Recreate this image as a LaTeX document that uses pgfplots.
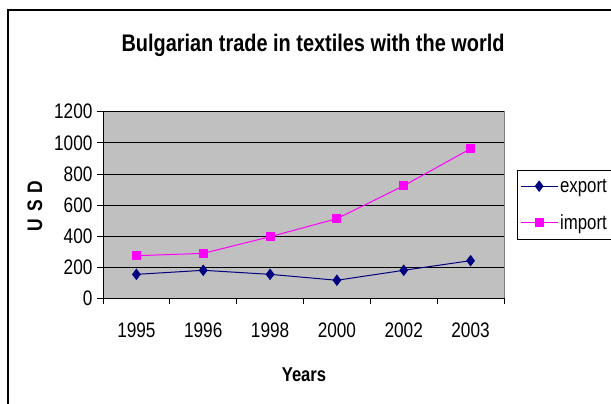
\documentclass[border=0pt]{standalone}
\usepackage{fontspec}
\setmainfont{Liberation Sans}[FakeStretch=0.83]
\newfontfamily\tickfont{Liberation Sans}[FakeStretch=0.82]
\usepackage{pgfplots}
\pgfplotsset{compat=1.18}
\definecolor{plotgray}{HTML}{C0C0C0}
\definecolor{bordergray}{HTML}{808080}
\definecolor{navyc}{HTML}{000080}
\definecolor{magc}{HTML}{FF00FF}
\begin{document}
\begin{tikzpicture}[x=1pt,y=1pt]
\useasboundingbox (0,0) rectangle (611,404);
\clip (0,0) rectangle (611,404);
\fill[white] (0,0) rectangle (611,404);
\draw[line width=1.2pt] (8,-20) -- (8,394) -- (640,394);
\node[font=\bfseries\fontsize{24}{26}\selectfont] at (313,359) {Bulgarian trade in textiles with the world};
\node[font=\bfseries\fontsize{20}{20}\selectfont] at (304,29) {Years};
\node[font=\bfseries\fontsize{21}{21}\selectfont,rotate=90] at (35,198) {U\,\,S\,\,D};
\begin{axis}[
  at={(103pt,105.7pt)}, anchor=south west,
  scale only axis, width=401pt, height=186.6pt,
  xmin=-0.5, xmax=5.5, ymin=0, ymax=1200,
  axis x line*=bottom, axis y line*=left,
  axis line style={black, line width=0.8pt},
  axis background/.style={fill=plotgray, draw=bordergray, line width=0.8pt},
  ytick={0,200,...,1200},
  xtick={-0.5,0.5,...,5.5}, xticklabels={},
  extra x ticks={0,1,2,3,4,5},
  extra x tick labels={1995,1996,1998,2000,2002,2003},
  extra x tick style={major tick length=0pt, grid=none,
     xticklabel style={yshift=-21pt}},
  tick align=outside, major tick length=6pt,
  tick style={black, line width=0.7pt},
  ymajorgrids, grid style={black, line width=0.7pt},
  /pgf/number format/assume math mode=true,
  /pgf/number format/set thousands separator={},
  ticklabel style={font=\tickfont\fontsize{21}{22}\selectfont},
  yticklabel style={xshift=-1pt},
  legend style={at={(1.032,0.6876)}, anchor=north west, draw=black, line width=0.6pt,
     font=\tickfont\fontsize{20.5}{22}\selectfont, inner xsep=3pt, inner ysep=6.5pt,
     row sep=17pt, cells={anchor=west}},
  legend cell align=left,
  legend image code/.code={\draw[mark repeat=2,mark phase=2] plot coordinates {(0pt,0pt) (18.5pt,0pt) (37pt,0pt)};},
  clip=false,
]
\addplot[color=navyc, line width=1pt, mark=diamond*, mark size=5pt, mark options={fill=navyc}]
  coordinates {(0,154) (1,180) (2,154) (3,116) (4,180) (5,242)};
\addlegendentry{export\hspace{20pt}}
\addplot[color=magc, line width=1pt, mark=square*, mark size=4pt, mark options={fill=magc}]
  coordinates {(0,274) (1,289) (2,396) (3,512) (4,724) (5,962)};
\addlegendentry{import\hspace{20pt}}
\end{axis}
\end{tikzpicture}
\end{document}
